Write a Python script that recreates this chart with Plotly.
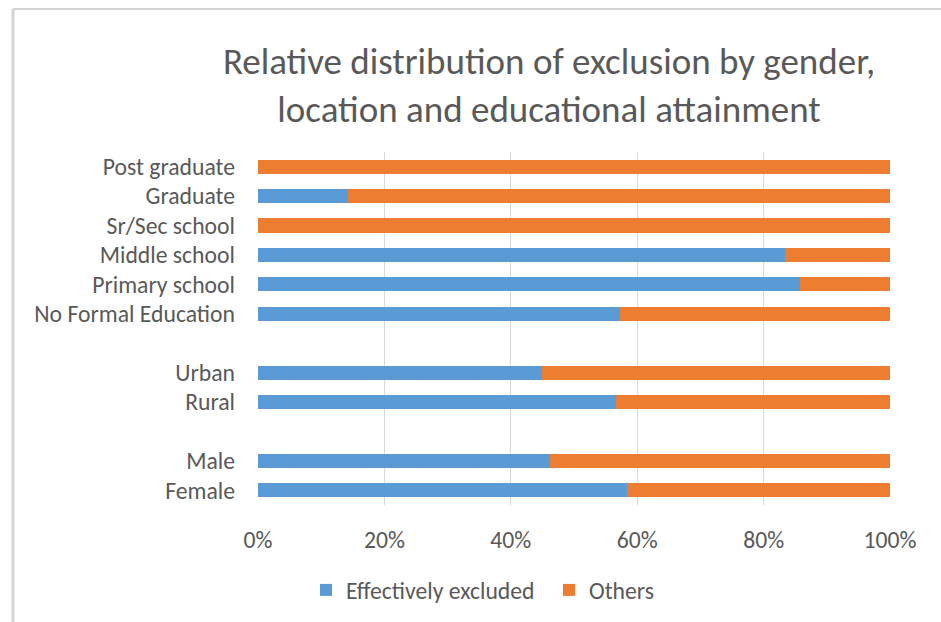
import plotly.graph_objects as go

categories = ["Female", "Male", " ", "Rural", "Urban", "  ",
              "No Formal Education", "Primary school", "Middle school",
              "Sr/Sec school", "Graduate", "Post graduate"]
excluded = [58.4, 46.2, None, 56.6, 45.0, None, 57.2, 85.7, 83.4, 0.0, 14.2, 0.0]
others = [None if v is None else round(100 - v, 1) for v in excluded]
x_ticks = [0, 20, 40, 60, 80, 100]
x_tick_labels = ["0%", "20%", "40%", "60%", "80%", "100%"]

BLUE = "#5B9BD5"
ORANGE = "#ED7D31"
TEXT = "#595959"
GRID = "#D9D9D9"
FONT = "Carlito, Lato, sans-serif"
FS = 23.7

fig = go.Figure()
fig.add_trace(go.Bar(y=categories, x=excluded, orientation="h", name="Effectively excluded",
                     marker=dict(color=BLUE, line=dict(width=0))))
fig.add_trace(go.Bar(y=categories, x=others, orientation="h", name="Others",
                     marker=dict(color=ORANGE, line=dict(width=0))))

W, H = 941, 622
L, R, T, B = 258, 51, 152, 117
pw, ph = W - L - R, H - T - B

def px_x(p):
    return (p - L) / pw

def px_y(p):
    return (H - B - p) / ph

fig.update_layout(
    width=W, height=H,
    barmode="stack", bargap=0.52,
    margin=dict(l=L, r=R, t=T, b=B),
    paper_bgcolor="white", plot_bgcolor="white",
    font=dict(family=FONT, color=TEXT, size=FS),
    title=dict(text="Relative distribution of exclusion by gender,<br>location and educational attainment",
               x=549 / W, xanchor="center", y=1 - 74 / H, yanchor="middle", yref="container",
               font=dict(size=37, color=TEXT, family=FONT)),
    xaxis=dict(range=[0, 100], tickvals=x_ticks, ticktext=x_tick_labels, showgrid=True,
               gridcolor=GRID, gridwidth=1, zeroline=False, showline=False,
               ticks="", ticklabelstandoff=18, tickfont=dict(size=FS, color=TEXT)),
    yaxis=dict(categoryorder="array", categoryarray=categories, type="category",
               showgrid=False, zeroline=False, showline=False, ticks="",
               ticklabelstandoff=22, tickfont=dict(size=FS, color=TEXT)),
    legend=dict(orientation="h", xref="container", x=306 / W, xanchor="left",
                y=1 - 590 / H, yanchor="middle", yref="container",
                entrywidth=198, entrywidthmode="pixels",
                font=dict(size=FS, color=TEXT), traceorder="normal"),
    shapes=[
        dict(type="line", xref="paper", yref="paper", x0=px_x(13), x1=px_x(W + 5),
             y0=px_y(9), y1=px_y(9), line=dict(color="#D4D4D4", width=2)),
        dict(type="line", xref="paper", yref="paper", x0=px_x(13), x1=px_x(13),
             y0=px_y(9), y1=px_y(H + 5), line=dict(color="#D4D4D4", width=3)),
    ],
)

fig.write_html("out.html")
